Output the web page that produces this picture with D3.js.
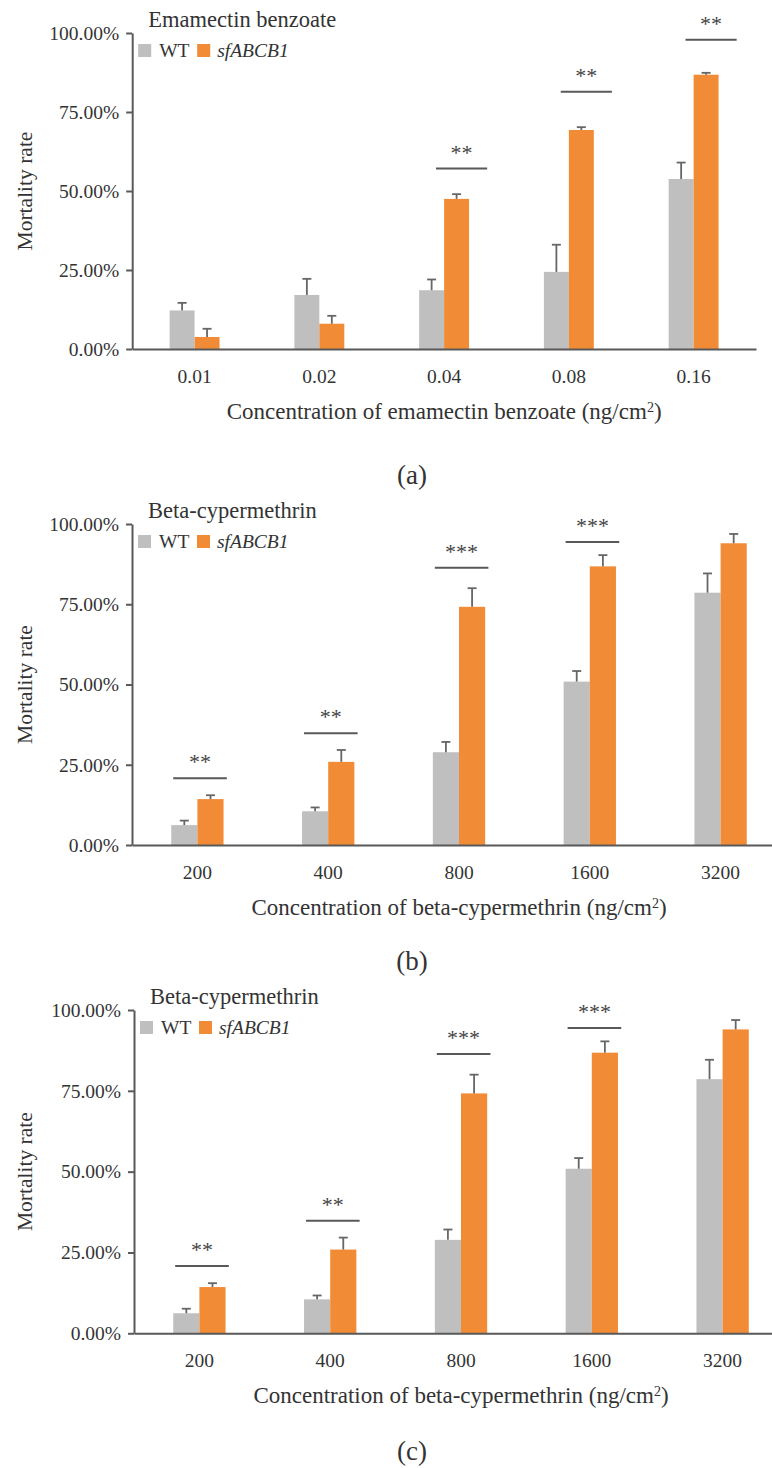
<!DOCTYPE html>
<html>
<head>
<meta charset="utf-8">
<script src="https://cdn.jsdelivr.net/npm/d3@7"></script>
<style>
  body { margin: 0; background: #fff; }
  svg text { font-family: "Liberation Serif", "Times New Roman", serif; fill: #333; }
</style>
</head>
<body>
<div id="area"></div>
<script>
// concentrations (x categories)
var concEma = ["0.01", "0.02", "0.04", "0.08", "0.16"];
var concBeta = ["200", "400", "800", "1600", "3200"];

// mortality (%) and upper error (%)
var emaWT = [12.2, 17.1, 18.6, 24.4, 53.8];
var emaWTerr = [2.4, 5.1, 3.4, 8.6, 5.2];
var emaSf = [3.8, 8.0, 47.5, 69.3, 86.8];
var emaSferr = [2.6, 2.5, 1.5, 0.9, 0.6];
var emaSig = [null, null, "**", "**", "**"];
var emaSigLevel = [null, null, 57.1, 81.4, 97.9];

var betaWT = [6.2, 10.5, 28.9, 50.9, 78.6];
var betaWTerr = [1.4, 1.2, 3.2, 3.3, 6.0];
var betaSf = [14.3, 25.9, 74.2, 86.8, 94.0];
var betaSferr = [1.2, 3.7, 5.8, 3.5, 2.9];
var betaSig = ["**", "**", "***", "***", null];
var betaSigLevel = [20.8, 34.8, 86.4, 94.4, null];

var yTicks = [0, 25, 50, 75, 100];
var seriesNames = ["WT", "sfABCB1"];
var colors = ["#bfbfbf", "#f28b35"];
var axisColor = "#595959";

var svg = d3.select("#area").append("svg")
    .attr("width", 772)
    .attr("height", 1468);

var panels = [
    { cats: concEma, wt: emaWT, wtErr: emaWTerr, sf: emaSf, sfErr: emaSferr, sig: emaSig, sigLevel: emaSigLevel,
      title: "Emamectin benzoate", xTitle: "Concentration of emamectin benzoate (ng/cm", caption: "(a)",
      top: 33, bottom: 349, left: 132.2, right: 756, sigShift: 0.14, capY: 484 },
    { cats: concBeta, wt: betaWT, wtErr: betaWTerr, sf: betaSf, sfErr: betaSferr, sig: betaSig, sigLevel: betaSigLevel,
      title: "Beta-cypermethrin", xTitle: "Concentration of beta-cypermethrin (ng/cm", caption: "(b)",
      top: 524, bottom: 845, left: 132, right: 786, sigShift: 0.02, capY: 970 },
    { cats: concBeta, wt: betaWT, wtErr: betaWTerr, sf: betaSf, sfErr: betaSferr, sig: betaSig, sigLevel: betaSigLevel,
      title: "Beta-cypermethrin", xTitle: "Concentration of beta-cypermethrin (ng/cm", caption: "(c)",
      top: 1010, bottom: 1333.3, left: 134, right: 788, sigShift: 0.02, capY: 1460 }
];

panels.forEach(function (p) {
    var g = svg.append("g");

    var x = d3.scaleBand().domain(p.cats).range([p.left, p.right]);
    var x1 = d3.scaleBand().domain(seriesNames).range([x.bandwidth() * 0.3, x.bandwidth() * 0.7]);
    var y = d3.scaleLinear().domain([0, 100]).range([p.bottom, p.top]);

    var rows = p.cats.map(function (c, i) {
        return { cat: c, vals: [
            { s: "WT", v: p.wt[i], e: p.wtErr[i] },
            { s: "sfABCB1", v: p.sf[i], e: p.sfErr[i] }
        ] };
    });

    // bars
    var grp = g.selectAll(".grp").data(rows).enter().append("g")
        .attr("transform", function (d) { return "translate(" + x(d.cat) + ",0)"; });
    grp.selectAll("rect").data(function (d) { return d.vals; }).enter().append("rect")
        .attr("x", function (d) { return x1(d.s); })
        .attr("width", x1.bandwidth())
        .attr("y", function (d) { return y(d.v); })
        .attr("height", function (d) { return y(0) - y(d.v); })
        .attr("fill", function (d, i) { return colors[i]; });

    // error bars (upper only)
    var eb = grp.selectAll(".eb").data(function (d) { return d.vals; }).enter().append("g")
        .attr("stroke", "#666").attr("stroke-width", 1.8);
    eb.append("line")
        .attr("x1", function (d) { return x1(d.s) + x1.bandwidth() / 2; })
        .attr("x2", function (d) { return x1(d.s) + x1.bandwidth() / 2; })
        .attr("y1", function (d) { return y(d.v); })
        .attr("y2", function (d) { return y(d.v + d.e); });
    eb.append("line")
        .attr("x1", function (d) { return x1(d.s) + x1.bandwidth() / 2 - 4.5; })
        .attr("x2", function (d) { return x1(d.s) + x1.bandwidth() / 2 + 4.5; })
        .attr("y1", function (d) { return y(d.v + d.e); })
        .attr("y2", function (d) { return y(d.v + d.e); });

    // significance marks
    p.cats.forEach(function (c, i) {
        if (!p.sig[i]) return;
        var cx = x(c) + x.bandwidth() * (0.5 + p.sigShift);
        var half = x.bandwidth() * 0.205;
        g.append("line")
            .attr("x1", cx - half).attr("x2", cx + half)
            .attr("y1", y(p.sigLevel[i])).attr("y2", y(p.sigLevel[i]))
            .attr("stroke", axisColor).attr("stroke-width", 2);
        g.append("text")
            .attr("x", cx).attr("y", y(p.sigLevel[i]) - 9)
            .attr("text-anchor", "middle")
            .style("font-size", "22px").style("fill", "#444")
            .text(p.sig[i]);
    });

    // y axis
    var ya = g.append("g")
        .attr("transform", "translate(" + p.left + ",0)")
        .call(d3.axisLeft(y).tickValues(yTicks).tickSize(6).tickSizeOuter(0).tickPadding(7)
            .tickFormat(function (d) { return d.toFixed(2) + "%"; }));
    ya.select(".domain").attr("stroke", axisColor).attr("stroke-width", 2);
    ya.selectAll(".tick line").attr("stroke", axisColor).attr("stroke-width", 2);
    ya.selectAll(".tick text").attr("font-family", null).style("font-size", "19.5px").style("fill", "#333");

    // x axis
    var xa = g.append("g")
        .attr("transform", "translate(0," + p.bottom + ")")
        .call(d3.axisBottom(x).tickSize(0).tickSizeOuter(0));
    xa.select(".domain").attr("stroke", axisColor).attr("stroke-width", 2);
    xa.selectAll(".tick text").attr("font-family", null).attr("y", 34).attr("dy", null)
        .style("font-size", "19.5px").style("fill", "#333");

    // axis titles
    var xt = g.append("text")
        .attr("x", (p.left + p.right) / 2).attr("y", p.bottom + 70)
        .attr("text-anchor", "middle").style("font-size", "23px")
        .text(p.xTitle);
    xt.append("tspan").attr("dy", -7).style("font-size", "14px").text("2");
    xt.append("tspan").attr("dy", 7).text(")");

    g.append("text")
        .attr("transform", "translate(32," + y(50) + ") rotate(-90)")
        .attr("text-anchor", "middle").style("font-size", "21.5px")
        .text("Mortality rate");

    // legend
    g.append("text").attr("x", p.left + 16).attr("y", p.top - 6)
        .style("font-size", "22.5px").text(p.title);
    var lx = [p.left + 6, p.left + 65];
    var tx = [p.left + 27, p.left + 85];
    seriesNames.forEach(function (s, i) {
        g.append("rect").attr("x", lx[i]).attr("y", p.top + 11)
            .attr("width", 13).attr("height", 13).attr("fill", colors[i]);
        g.append("text").attr("x", tx[i]).attr("y", p.top + 24)
            .style("font-size", "19.5px").style("font-style", i === 1 ? "italic" : "normal")
            .text(s);
    });

    // panel caption
    g.append("text").attr("x", 412).attr("y", p.capY)
        .attr("text-anchor", "middle").style("font-size", "27px")
        .text(p.caption);
});
</script>
</body>
</html>
